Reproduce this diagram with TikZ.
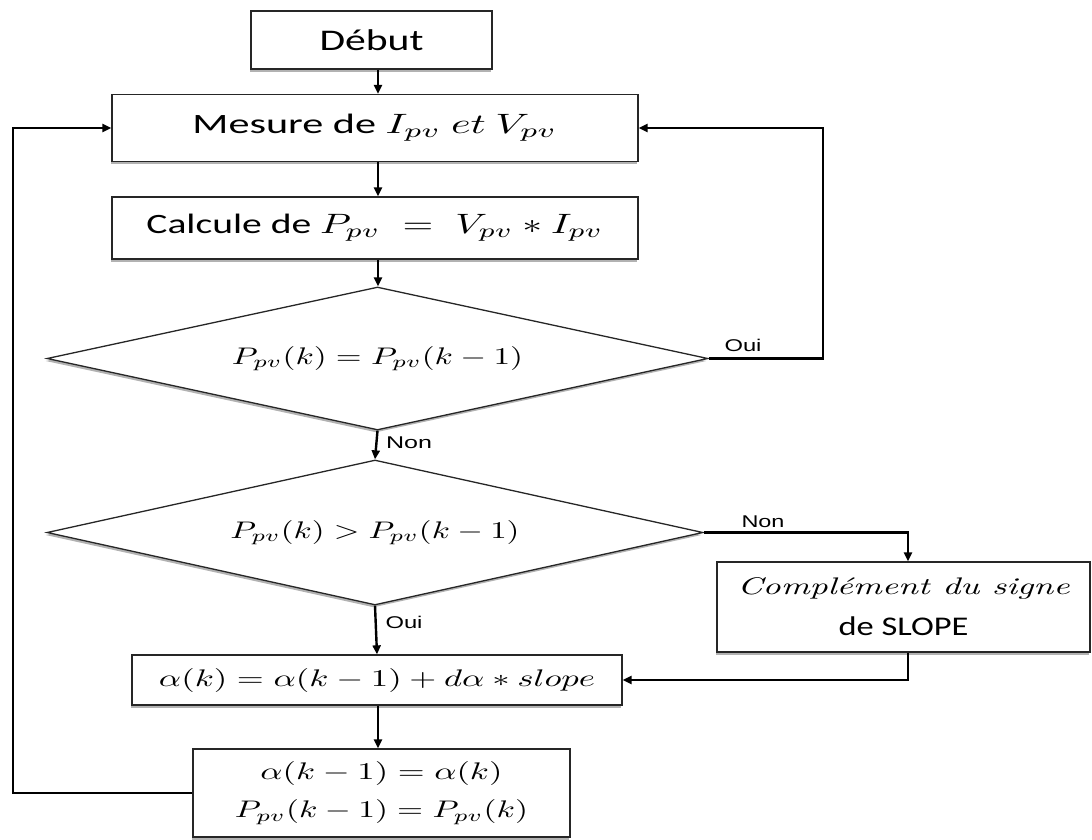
\documentclass[tikz,border=0pt]{standalone}
\usepackage[no-math]{fontspec}
\setmainfont{Carlito}
\newfontfamily\labfont{Liberation Sans}
\newfontfamily\lmrfont{Latin Modern Roman}
\usepackage{graphicx}
\usetikzlibrary{shapes.geometric,arrows.meta,shadows}
\newcommand{\fitw}[3]{\resizebox{#1pt}{#2\height}{#3}}
\tikzset{
  shad/.style={drop shadow={shadow xshift=-1.5pt, shadow yshift=-2.5pt, opacity=0.3, fill=black}},
  box/.style={draw=black!85, line width=1.3pt, fill=white, inner sep=0pt, shad},
  dia/.style={diamond, draw=black!85, line width=1.3pt, fill=white, inner sep=0pt, shad},
  arr/.style={line width=2.4pt, -{Triangle[length=9pt,width=8pt]}},
  lbl/.style={font=\labfont, inner sep=0pt},
}
\begin{document}
\begin{tikzpicture}[x=1pt,y=-1pt]
\useasboundingbox (0,0) rectangle (1092,839);
\node[box, minimum width=241pt, minimum height=58pt] (debut) at (371.5,40) {\fitw{104}{3.0}{Début}};
\node[box, minimum width=526pt, minimum height=67pt] (mesure) at (375,128) {\fitw{365}{2.8}{Mesure de $I_{pv}\ et\ V_{pv}$}};
\node[box, minimum width=526pt, minimum height=62pt] (calc) at (375,228) {\fitw{457}{2.8}{Calcule de $P_{pv}\;=\;V_{pv}*I_{pv}$}};
\node[dia, minimum width=661pt, minimum height=143pt, aspect=4.6] (d1) at (377.5,358.5) {\raisebox{6pt}{\fitw{291}{2.4}{$P_{pv}(k)=P_{pv}(k-1)$}}};
\node[dia, minimum width=656pt, minimum height=145pt, aspect=4.5] (d2) at (375,532.5) {\raisebox{6pt}{\fitw{289}{2.4}{$P_{pv}(k)>P_{pv}(k-1)$}}};
\node[box, minimum width=373pt, minimum height=90pt, align=center, font=\fontsize{10}{37}\selectfont] (comp) at (903.5,607) {\raisebox{4pt}{\fitw{332}{2.4}{\lmrfont\itshape Complément du signe}}\\\fitw{130}{2.7}{de SLOPE}};
\node[box, minimum width=490pt, minimum height=50pt] (alpha) at (377,680) {\fitw{436}{2.4}{$\alpha(k)=\alpha(k-1)+d\alpha*slope$}};
\node[box, minimum width=377pt, minimum height=88pt, align=center, font=\fontsize{10}{38}\selectfont] (last) at (381.5,793) {\fitw{242}{2.4}{$\alpha(k-1)=\alpha(k)$}\\\fitw{293}{2.4}{$P_{pv}(k-1)=P_{pv}(k)$}};
\coordinate (col) at (378,0);
\draw[arr] (debut.south -| col) -- (mesure.north -| col);
\draw[arr] (mesure.south -| col) -- (calc.north -| col);
\draw[arr] (calc.south -| col) -- (d1.north -| col);
\draw[arr] (d1.south) -- (d2.north);
\draw[arr] (d2.south) -- (alpha.north);
\draw[arr] (alpha.south -| col) -- (last.north -| col);
\coordinate (rt) at (823,0);
\draw[arr] (d1.east) -- (d1.east -| rt) |- (mesure.east);
\coordinate (cx) at (908,0);
\draw[arr] (d2.east) -- (d2.east -| cx) -- (comp.north -| cx);
\draw[arr] (comp.south -| cx) |- (alpha.east);
\coordinate (lf) at (13,0);
\draw[arr] (last.west) -- (last.west -| lf) |- (mesure.west);
\node[lbl] (oui1) at (743,345) {\fitw{37}{1.7}{Oui}};
\node[lbl] (non1) at (409,443) {\fitw{46}{1.7}{Non}};
\node[lbl] (non2) at (763,522) {\fitw{43}{1.7}{Non}};
\node[lbl] (oui2) at (404,622) {\fitw{37}{1.7}{Oui}};
\end{tikzpicture}
\end{document}
